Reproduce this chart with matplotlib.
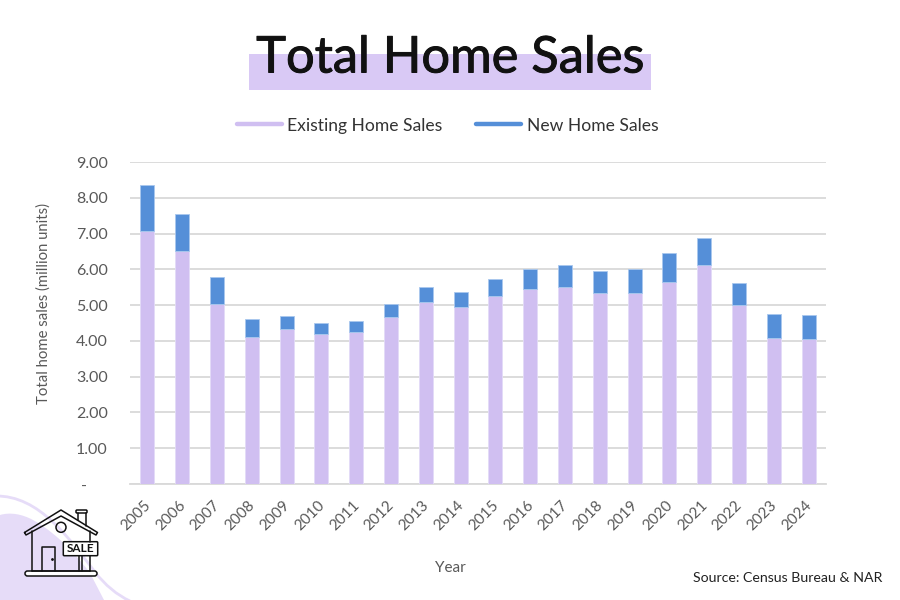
import matplotlib
matplotlib.use('Agg')
import matplotlib.pyplot as plt
from matplotlib.lines import Line2D
from matplotlib.patches import Circle, Rectangle, FancyBboxPatch, PathPatch
from matplotlib.path import Path
from matplotlib.transforms import ScaledTranslation
import matplotlib.patheffects as pe
import numpy as np

plt.rcParams['font.family'] = ['Lato', 'DejaVu Sans']

years = [str(y) for y in range(2005, 2025)]
existing = [7.08, 6.51, 5.02, 4.12, 4.34, 4.18, 4.26, 4.66, 5.09, 4.94,
            5.25, 5.45, 5.51, 5.34, 5.34, 5.64, 6.12, 5.00, 4.09, 4.05]
total = [8.36, 7.56, 5.79, 4.60, 4.70, 4.49, 4.56, 5.02, 5.51, 5.37,
         5.74, 6.01, 6.12, 5.94, 6.01, 6.46, 6.88, 5.62, 4.74, 4.72]
new = [round(t - e, 2) for t, e in zip(total, existing)]
y_ticks = [0, 1, 2, 3, 4, 5, 6, 7, 8, 9]
y_labels = ['-     ', '1.00', '2.00', '3.00', '4.00', '5.00', '6.00', '7.00', '8.00', '9.00']

LAVENDER = '#d0bff1'
BLUE = '#558fd8'
PALE = '#e6dcf8'
GREY = '#595959'
INK = '#111111'

fig = plt.figure(figsize=(9, 6), dpi=100, facecolor='white')

# backdrop layer in pixel coordinates (decoration and title band)
bg = fig.add_axes([0, 0, 1, 1], zorder=0)
bg.set_xlim(0, 900)
bg.set_ylim(600, 0)
bg.axis('off')
C4 = Path.CURVE4
blob = Path([(0, 515), (10, 512), (22, 514), (33, 520), (60, 535), (80, 560), (90, 573),
             (104, 600), (0, 600), (0, 515)],
            [Path.MOVETO, C4, C4, C4, C4, C4, C4, Path.LINETO, Path.LINETO, Path.CLOSEPOLY])
bg.add_patch(PathPatch(blob, fc=PALE, ec='none'))
arc = Path([(-5, 496), (40, 495), (70, 540), (95, 572), (105, 585), (117, 595), (130, 601)],
           [Path.MOVETO, C4, C4, C4, C4, C4, C4])
bg.add_patch(PathPatch(arc, fc='none', ec=PALE, lw=2))
bg.add_patch(Rectangle((249, 54), 402, 36, fc='#d9c9f5', ec='none'))

# chart
ax = fig.add_axes([130 / 900, 1 - 484 / 600, 696 / 900, 322 / 600], zorder=1)
ax.patch.set_alpha(0)
x = np.arange(len(years))
ax.bar(x, existing, width=0.4, color=LAVENDER, edgecolor='#e3dbf8', linewidth=0.6, zorder=3)
ax.bar(x, new, width=0.4, bottom=existing, color=BLUE, edgecolor='#a9c8ee', linewidth=0.6, zorder=3)
ax.set_xlim(-0.5, len(years) - 0.5)
ax.set_ylim(0, 9)
ax.set_yticks(y_ticks)
ax.set_yticklabels(y_labels)
ax.set_xticks(x)
ax.set_xticklabels(years, rotation=45, ha='center')
ax.grid(axis='y', color='#d9d9d9', lw=1.3, zorder=0)
ax.set_axisbelow(True)
ax.tick_params(axis='both', length=0, labelsize=11.5, labelcolor=GREY)
ax.tick_params(axis='y', pad=16)
ax.tick_params(axis='x', pad=10.5, labelsize=11)
nudge = ScaledTranslation(-11.5 / 100, 0, fig.dpi_scale_trans)
for lab in ax.get_xticklabels():
    lab.set_transform(lab.get_transform() + nudge)
for s in ['top', 'right', 'left']:
    ax.spines[s].set_visible(False)
ax.spines['bottom'].set_color('#d9d9d9')
ax.spines['bottom'].set_linewidth(1.3)

handles = [Line2D([], [], color=LAVENDER, lw=3.2, solid_capstyle='round'),
           Line2D([], [], color=BLUE, lw=3.2, solid_capstyle='round')]
fig.legend(handles, ['Existing Home Sales', 'New Home Sales'], ncol=2, frameon=False,
           loc='center', bbox_to_anchor=(447.5 / 900, 1 - 125.5 / 600), fontsize=12.6,
           handlelength=2.6, handletextpad=0.3, columnspacing=1.9, labelcolor='#333333')

# foreground texts and icon, pixel coordinates again
fg = fig.add_axes([0, 0, 1, 1], zorder=2)
fg.set_xlim(0, 900)
fg.set_ylim(600, 0)
fg.axis('off')
fg.patch.set_alpha(0)
title = fg.text(450, 58.5, 'Total Home Sales', ha='center', va='center', fontsize=36.4, color=INK)
title.set_path_effects([pe.withStroke(linewidth=0.7, foreground=INK)])
fg.text(44, 304, 'Total home sales (million units)', rotation=90, ha='center', va='center',
        fontsize=10.7, color=GREY)
fg.text(450, 568, 'Year', ha='center', va='center', fontsize=11, color=GREY)
fg.text(882, 578, 'Source: Census Bureau & NAR', ha='right', va='center', fontsize=10.2, color='#222222')


def stroke(px, py, lw=1.1):
    fg.plot(px, py, color=INK, lw=lw, solid_capstyle='round', solid_joinstyle='round')


# house icon
stroke([24.5, 61, 97.5, 96, 61, 26, 24.5], [532.5, 510, 532.5, 535, 516, 535, 532.5])
stroke([31.7, 31.7], [531, 571])
stroke([90, 90], [531, 542])
stroke([90, 90], [556, 571])
stroke([31.7, 90], [571, 571])
fg.add_patch(FancyBboxPatch((25, 571), 72, 5, boxstyle='round,pad=0,rounding_size=2.5',
                            fc='white', ec=INK, lw=1.1))
stroke([78.3, 78.3], [513, 520])
stroke([86, 86], [513, 526])
fg.add_patch(FancyBboxPatch((76, 510), 11, 3, boxstyle='round,pad=0,rounding_size=1',
                            fc='white', ec=INK, lw=1.1))
fg.add_patch(Circle((61, 527.3), 5, fc='none', ec=INK, lw=1.1))
stroke([41.7, 41.7, 55, 55], [571, 546.7, 546.7, 571])
fg.plot([51.7], [559], marker='o', ms=1, color=INK)
stroke([79, 79], [555.7, 571])
stroke([82.3, 82.3], [555.7, 571])
fg.add_patch(FancyBboxPatch((63.3, 541.7), 34.4, 14, boxstyle='round,pad=0,rounding_size=1',
                            fc='white', ec=INK, lw=1.1))
fg.text(80.5, 548.8, 'SALE', ha='center', va='center', fontsize=8.5, color=INK, fontweight='bold')

fig.savefig('out.png', dpi=100)
